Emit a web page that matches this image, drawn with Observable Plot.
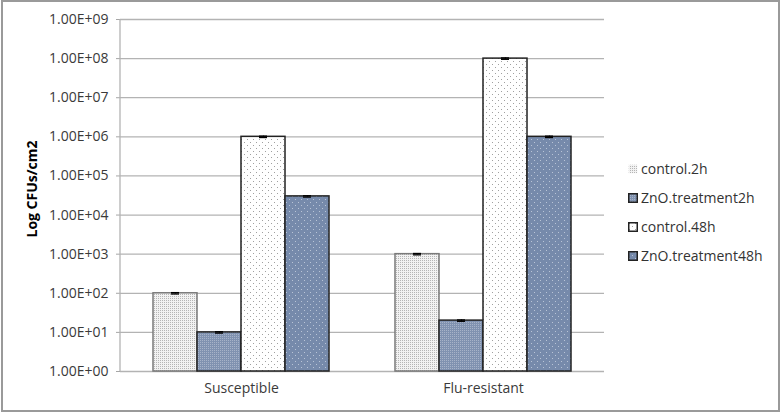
<!DOCTYPE html>
<html>
<head>
<meta charset="utf-8">
<script src="https://cdn.jsdelivr.net/npm/d3@7"></script>
<script src="https://cdn.jsdelivr.net/npm/@observablehq/plot@0.6"></script>
<style>
  html, body { margin: 0; padding: 0; background: #fff; }
  #wrap { position: relative; width: 780px; height: 412px; overflow: hidden; font-family: "Open Sans", sans-serif; }
  #border { position: absolute; left: 1px; top: 0px; width: 775px; height: 408px; border: 2px solid #9a9a9a; box-sizing: content-box; pointer-events: none; }
  #chart { position: absolute; left: 0; top: 0; }
  #chart g[aria-label="y-axis tick label"] text { font-size: 14px; fill: #3a3a3a; }
  #chart g[aria-label="fx-axis tick label"] text { font-size: 14px; fill: #3a3a3a; }
  #chart g[aria-label="y-axis tick"] path { stroke: #a6a6a6; }
  #legend { position: absolute; left: 628px; top: 154px; font-size: 14px; color: #333; }
  #legend .row { height: 29px; display: flex; align-items: center; }
  #legend svg { margin-right: 3px; }
</style>
</head>
<body>
<svg width="0" height="0" style="position:absolute">
  <defs>
    <pattern id="p0" width="2" height="2" patternUnits="userSpaceOnUse">
      <rect width="2" height="2" fill="#f2f2f2"/>
      <rect width="1" height="1" fill="#b5b5b5"/>
    </pattern>
    <pattern id="p1" width="2" height="2" patternUnits="userSpaceOnUse">
      <rect width="2" height="2" fill="#8092b0"/>
      <rect width="1" height="1" fill="#a7b3c8"/>
    </pattern>
    <pattern id="p2" width="6" height="6" patternUnits="userSpaceOnUse">
      <rect width="6" height="6" fill="#ffffff"/>
      <rect x="1" y="1" width="1" height="1" fill="#a0a0a0"/>
      <rect x="4" y="4" width="1" height="1" fill="#a0a0a0"/>
    </pattern>
    <pattern id="p3" width="6" height="6" patternUnits="userSpaceOnUse">
      <rect width="6" height="6" fill="#768aab"/>
      <rect x="1" y="1" width="1" height="1" fill="#b9c4d6"/>
      <rect x="4" y="4" width="1" height="1" fill="#b9c4d6"/>
    </pattern>
  </defs>
</svg>
<div id="wrap">
  <div id="chart"></div>
  <div id="legend"></div>
  <div id="border"></div>
</div>
<script>
// ---- data ----
const groups = ["Susceptible", "Flu-resistant"];
const series = ["control.2h", "ZnO.treatment2h", "control.48h", "ZnO.treatment48h"];
const susceptibleValues = [100, 10, 1000000, 30000];
const fluResistantValues = [1000, 20, 100000000, 1000000];
const susceptibleErrors = [4, 0.4, 40000, 1200];
const fluResistantErrors = [40, 0.8, 4000000, 40000];
const yTicks = [1, 10, 100, 1e3, 1e4, 1e5, 1e6, 1e7, 1e8, 1e9];
const tickLabels = ["1.00E+00","1.00E+01","1.00E+02","1.00E+03","1.00E+04","1.00E+05","1.00E+06","1.00E+07","1.00E+08","1.00E+09"];
const yLabel = "Log CFUs/cm2";

// styles (not data)
const fills = ["url(#p0)", "url(#p1)", "url(#p2)", "url(#p3)"];
const strokes = ["#7a7a7a", "#222", "#222", "#222"];

const rows = [];
groups.forEach((g, gi) => {
  const vals = gi === 0 ? susceptibleValues : fluResistantValues;
  const errs = gi === 0 ? susceptibleErrors : fluResistantErrors;
  series.forEach((s, si) => rows.push({group: g, series: s, value: vals[si], err: errs[si]}));
});

const barMarks = series.map((s, si) =>
  Plot.barY(rows.filter(d => d.series === s), {
    fx: "group", x: "series", y1: () => 1, y2: "value",
    fill: fills[si], stroke: strokes[si], strokeWidth: 1.5
  })
);

const plot = Plot.plot({
  width: 780,
  height: 412,
  marginLeft: 120,
  marginRight: 176,
  marginTop: 19,
  marginBottom: 41,
  style: { fontFamily: "Open Sans, sans-serif", fontSize: "14px", color: "#333", background: "transparent" },
  fx: { domain: groups, padding: 0, label: null, tickSize: 0, tickPadding: 12 },
  x: { domain: series, paddingInner: 0, paddingOuter: 0.73, axis: null },
  y: {
    type: "log", domain: [1, 1e9], ticks: yTicks,
    tickFormat: d => tickLabels[yTicks.indexOf(d)],
    tickSize: 4, tickPadding: 8,
    label: null
  },
  marks: [
    Plot.ruleY(yTicks.slice(1), { stroke: "#b3b3b3", strokeWidth: 1.3 }),
    Plot.ruleY([1], { stroke: "#b3b3b3", strokeWidth: 1.3 }),
    ...barMarks,
    Plot.ruleX(rows, { fx: "group", x: "series", y1: d => d.value - d.err, y2: d => d.value + d.err, stroke: "#000", strokeWidth: 1 }),
    Plot.tickY(rows, { fx: "group", x: "series", y: d => d.value + d.err, stroke: "#000", strokeWidth: 1.3, insetLeft: 18, insetRight: 18 }),
    Plot.tickY(rows, { fx: "group", x: "series", y: d => d.value - d.err, stroke: "#000", strokeWidth: 1.3, insetLeft: 18, insetRight: 18 })
  ]
});
document.getElementById("chart").appendChild(plot);

const svg = d3.select(plot);
// y axis line along left edge
svg.append("line").attr("x1", 120).attr("x2", 120).attr("y1", 19).attr("y2", 371)
  .attr("stroke", "#b3b3b3").attr("stroke-width", 1.3);
// y axis title
svg.append("text")
  .attr("transform", "translate(37,189) rotate(-90)")
  .attr("text-anchor", "middle")
  .attr("font-weight", "bold")
  .attr("font-size", 14)
  .attr("fill", "#000")
  .text(yLabel);

// legend
const legend = document.getElementById("legend");
series.forEach((s, si) => {
  const row = document.createElement("div");
  row.className = "row";
  const border = si === 0 ? "none" : "#222";
  row.innerHTML = `<svg width="10" height="10"><rect x="0.75" y="0.75" width="8.5" height="8.5" fill="${fills[si]}" stroke="${border}" stroke-width="1.5"/></svg><span>${s}</span>`;
  legend.appendChild(row);
});
</script>
</body>
</html>
